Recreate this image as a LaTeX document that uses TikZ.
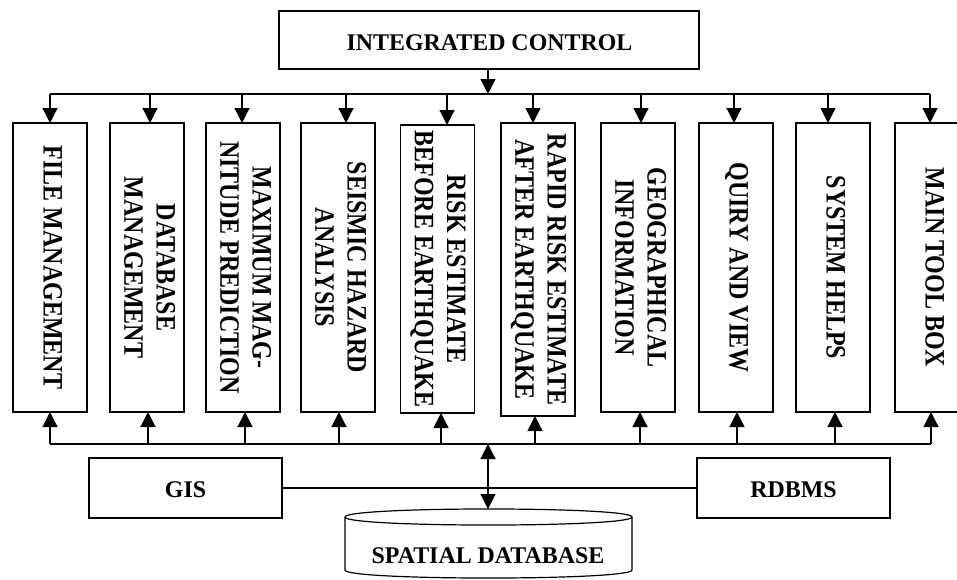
\documentclass[tikz,border=0pt]{standalone}
\usepackage{fontspec}
\setmainfont{Liberation Serif}
\usetikzlibrary{arrows.meta}
\begin{document}
\begin{tikzpicture}[x=1pt,y=-1pt,line width=1.2pt,
  tip/.style={-{Triangle[length=15pt,width=15pt]}},
  modbox/.style={draw,inner sep=0pt,outer sep=0pt,minimum width=74pt,minimum height=289pt},
  hbox/.style={draw,inner sep=0pt,outer sep=0pt},
  hlabel/.style={font=\fontsize{23.9}{27}\bfseries\selectfont,inner sep=0pt},
  vlabel/.style={rotate=-90,inner sep=0pt,font=\fontsize{24}{27.6}\bfseries\selectfont}]
\useasboundingbox (0,0) rectangle (957,579);
\clip (0,0) rectangle (957,579);
\newcommand{\vtxt}[1]{\scalebox{1}[1.17]{\begin{tabular}{@{}c@{}}#1\end{tabular}}}

% top box
\node[hbox,minimum width=420pt,minimum height=58pt] (ic) at (489,40) {};
\node[hlabel] (icl) at (489.5,43) {INTEGRATED CONTROL};

% module boxes
\node[modbox] (b1) at (50,267.5) {};
\node[modbox] (b2) at (147,267.5) {};
\node[modbox] (b3) at (243,267.5) {};
\node[modbox] (b4) at (338,267.5) {};
\node[modbox,minimum height=288pt] (b5) at (437.5,269) {};
\node[modbox,minimum height=293pt] (b6) at (538,269.5) {};
\node[modbox] (b7) at (638,267.5) {};
\node[modbox] (b8) at (736,267.5) {};
\node[modbox] (b9) at (833,267.5) {};
\node[modbox] (b10) at (932,267.5) {};

\node[vlabel] (l1) at (b1) {\vtxt{FILE MANAGEMENT}};
\node[vlabel] (l2) at (b2) {\vtxt{DATABASE\\MANAGEMENT}};
\node[vlabel] (l3) at (b3) {\vtxt{MAXIMUM MAG-\\NITUDE PREDICTION}};
\node[vlabel] (l4) at (b4) {\vtxt{SEISMIC HAZARD\\ANALYSIS}};
\node[vlabel] (l5) at (b5) {\vtxt{RISK ESTIMATE\\BEFORE EARTHQUAKE}};
\node[vlabel] (l6) at (b6) {\vtxt{RAPID RISK ESTIMATE\\AFTER EARTHQUAKE}};
\node[vlabel] (l7) at (b7) {\vtxt{GEOGRAPHICAL\\INFORMATION}};
\node[vlabel] (l8) at (b8) {\vtxt{QUIRY AND VIEW}};
\node[vlabel] (l9) at (b9) {\vtxt{SYSTEM HELPS}};
\node[vlabel] (l10) at (b10) {\vtxt{MAIN TOOL BOX}};

% top bus
\coordinate (icb) at (488,94);
\draw[tip] (ic.south -| icb) -- (icb);
\coordinate (t1) at (50,94);
\coordinate (t2) at (150,94);
\coordinate (t3) at (242,94);
\coordinate (t4) at (346,94);
\coordinate (t5) at (447,94);
\coordinate (t6) at (533,94);
\coordinate (t7) at (641,94);
\coordinate (t8) at (734,94);
\coordinate (t9) at (828,94);
\coordinate (t10) at (930,94);
\draw (t1) -- (t10);
\foreach \i in {1,...,10} {\draw[tip] (t\i) -- (t\i |- b\i.north);}

% bottom bus
\coordinate (u1) at (50,444);
\coordinate (u2) at (148,444);
\coordinate (u3) at (245,444);
\coordinate (u4) at (339,444);
\coordinate (u5) at (441,444);
\coordinate (u6) at (535,444);
\coordinate (u7) at (640,444);
\coordinate (u8) at (737,444);
\coordinate (u9) at (835,444);
\coordinate (u10) at (931,444);
\draw (u1) -- (u10);
\foreach \i in {1,...,10} {\draw[tip] (u\i) -- (u\i |- b\i.south);}

% GIS and RDBMS
\node[hbox,minimum width=193pt,minimum height=60pt] (gis) at (185.5,488) {};
\node[hlabel] (gisl) at (185.5,490) {GIS};
\node[hbox,minimum width=193pt,minimum height=60pt] (rdb) at (793.5,488) {};
\node[hlabel] (rdbl) at (793.5,490) {RDBMS};
\draw (gis.east) -- (rdb.west);

% spatial database cylinder
\draw (345,517) .. controls (345,506.3) and (632,506.3) .. (632,517)
      .. controls (632,527.7) and (345,527.7) .. (345,517);
\draw (345,517) -- (345,570) .. controls (345,580.7) and (632,580.7) .. (632,570) -- (632,517);
\coordinate (cyltop) at (488,509);
\node[hlabel] (sdb) at (488,556) {SPATIAL DATABASE};
\coordinate (dbus) at (488,444);
\draw[{Triangle[length=15pt,width=15pt]}-{Triangle[length=15pt,width=15pt]}] (dbus) -- (cyltop);
\end{tikzpicture}
\end{document}
